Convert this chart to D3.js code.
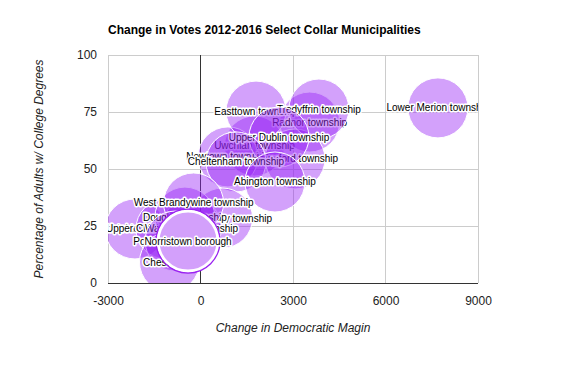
<!DOCTYPE html>
<html>
<head>
<meta charset="utf-8">
<script src="https://cdn.jsdelivr.net/npm/d3@7"></script>
<style>
  html, body { margin: 0; padding: 0; background: #fff; }
  svg { display: block; font-family: Arial, "Liberation Sans", sans-serif; }
</style>
</head>
<body>
<svg id="chart" width="568" height="366"></svg>
<script>
// ---- Data (drawing order = array order) ----
const municipalities = [
  "Uwchlan township", "Radnor township", "Newtown township", "Haverford township",
  "Easttown township", "Lower Merion township", "Tredyffrin township", "Upper Dublin township",
  "Cheltenham township", "Abington township", "Bristol township", "Upper Chichester township",
  "Upper Darby township", "Warminster township", "Douglass township", "West Brandywine township",
  "Pottstown borough", "Chester city", "Norristown borough"
];
const marginChange = [
  1750, 3540, 890, 3065,
  1800, 7700, 3840, 2545,
  1150, 2415, -2125, -1120,
  715, -290, -505, -225,
  -825, -1005, -405
];
const collegePct = [
  60.1, 70.6, 55.3, 54.4,
  75.4, 76.8, 76.3, 64.0,
  53.1, 44.3, 23.7, 23.7,
  28.5, 24.1, 28.9, 35.1,
  18.4, 9.2, 18.4
];
const highlighted = "Norristown borough";
const xTicks = [-3000, 0, 3000, 6000, 9000];
const yTicks = [0, 25, 50, 75, 100];
const titleText = "Change in Votes 2012-2016 Select Collar Municipalities";
const xTitle = "Change in Democratic Magin";
const yTitle = "Percentage of Adults w/ College Degrees";

// ---- Layout ----
const svg = d3.select("#chart");
const plot = { left: 108, right: 478, top: 55, bottom: 283 };
const R = 30;
const FONT = "Arial, 'Liberation Sans', sans-serif";

const x = d3.scaleLinear().domain([-3000, 9000]).range([plot.left, plot.right]);
const y = d3.scaleLinear().domain([0, 100]).range([plot.bottom, plot.top]);

// title
svg.append("text")
  .attr("x", plot.left).attr("y", 34)
  .attr("font-size", 12).attr("font-weight", "bold").attr("fill", "#000")
  .text(titleText);

// gridlines
const grid = svg.append("g");
grid.selectAll("line.v").data(xTicks).join("line")
  .attr("x1", d => x(d)).attr("x2", d => x(d))
  .attr("y1", plot.top).attr("y2", plot.bottom)
  .attr("stroke", "#cccccc").attr("stroke-width", 1).attr("shape-rendering", "crispEdges");
grid.selectAll("line.h").data(yTicks).join("line")
  .attr("x1", plot.left).attr("x2", plot.right)
  .attr("y1", d => y(d)).attr("y2", d => y(d))
  .attr("stroke", "#cccccc").attr("stroke-width", 1).attr("shape-rendering", "crispEdges");
// zero lines
grid.append("line").attr("x1", x(0)).attr("x2", x(0)).attr("y1", plot.top).attr("y2", plot.bottom)
  .attr("stroke", "#333").attr("stroke-width", 1).attr("shape-rendering", "crispEdges");
grid.append("line").attr("x1", plot.left).attr("x2", plot.right).attr("y1", y(0)).attr("y2", y(0))
  .attr("stroke", "#333").attr("stroke-width", 1).attr("shape-rendering", "crispEdges");

// axes (tick labels via d3 axes)
const xAxis = svg.append("g").attr("transform", `translate(0,${plot.bottom})`)
  .call(d3.axisBottom(x).tickValues(xTicks).tickFormat(d => String(d)).tickSize(0).tickPadding(13));
xAxis.select(".domain").remove();
xAxis.selectAll("text").attr("font-size", 12).attr("fill", "#222").attr("font-family", FONT);

const yAxis = svg.append("g").attr("transform", `translate(${plot.left},0)`)
  .call(d3.axisLeft(y).tickValues(yTicks).tickFormat(d => String(d)).tickSize(0).tickPadding(11));
yAxis.select(".domain").remove();
yAxis.selectAll("text").attr("font-size", 12).attr("fill", "#222").attr("font-family", FONT);

// axis titles
svg.append("text")
  .attr("x", (plot.left + plot.right) / 2).attr("y", 332)
  .attr("text-anchor", "middle").attr("font-size", 12).attr("font-style", "italic").attr("fill", "#222")
  .text(xTitle);
svg.append("text")
  .attr("transform", `translate(43,${(plot.top + plot.bottom) / 2}) rotate(-90)`)
  .attr("text-anchor", "middle").attr("font-size", 12).attr("font-style", "italic").attr("fill", "#222")
  .text(yTitle);

// clip
svg.append("defs").append("clipPath").attr("id", "plotclip")
  .append("rect").attr("x", plot.left).attr("y", plot.top)
  .attr("width", plot.right - plot.left).attr("height", plot.bottom - plot.top);

const data = municipalities.map((name, i) => ({ name, mx: marginChange[i], pct: collegePct[i] }));
const ordered = data.filter(d => d.name !== highlighted).concat(data.filter(d => d.name === highlighted));

const bubbles = svg.append("g").attr("clip-path", "url(#plotclip)");
const g = bubbles.selectAll("g.b").data(ordered).join("g").attr("class", "b");

g.append("circle")
  .attr("cx", d => x(d.mx)).attr("cy", d => y(d.pct)).attr("r", R)
  .attr("fill", d => d.name === highlighted ? "rgb(211,160,251)" : "rgb(150,30,245)")
  .attr("fill-opacity", d => d.name === highlighted ? 1 : 0.42)
  .attr("stroke", "#fff")
  .attr("stroke-width", d => d.name === highlighted ? 3 : 1);

g.filter(d => d.name === highlighted).append("circle")
  .attr("cx", d => x(d.mx)).attr("cy", d => y(d.pct)).attr("r", R + 2)
  .attr("fill", "none").attr("stroke", "#9a22f0").attr("stroke-width", 1.3);

g.append("text")
  .attr("x", d => x(d.mx)).attr("y", d => y(d.pct)).attr("dy", "0.35em")
  .attr("text-anchor", "middle").attr("font-size", 10).attr("fill", "#000")
  .attr("stroke", "#fff").attr("stroke-width", 3).attr("stroke-linejoin", "round")
  .attr("paint-order", "stroke")
  .text(d => d.name);
</script>
</body>
</html>
